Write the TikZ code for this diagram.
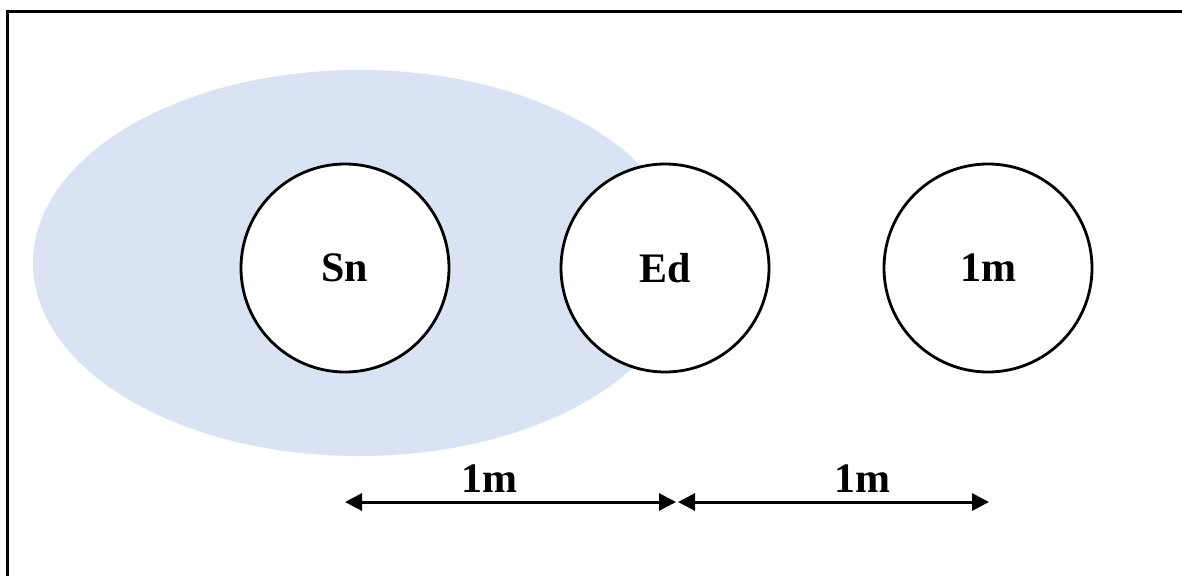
\documentclass[tikz,border=0pt]{standalone}
\usepackage{fontspec}
\setmainfont{Liberation Serif}
\usetikzlibrary{arrows.meta}
\definecolor{zonefill}{RGB}{218,227,243}
\tikzset{
  ball/.style={circle, draw=black, line width=2.8pt, fill=white, minimum size=208pt, inner sep=0pt,
    font=\fontsize{42}{42}\selectfont\bfseries},
  dimlabel/.style={font=\fontsize{42}{42}\selectfont\bfseries, inner sep=0pt},
  dimarrow/.style={line width=3pt, {Triangle[length=17pt,width=17pt]}-{Triangle[length=17pt,width=17pt]}},
  frameline/.style={line width=3pt, black}
}
\begin{document}
\begin{tikzpicture}[x=1pt,y=-1pt]
\useasboundingbox (0,0) rectangle (1182,576);
\fill[white] (0,0) rectangle (1182,576);
% frame (top and left only)
\draw[frameline] (7,576) -- (7,11) -- (1182,11);
% shaded zone
\fill[zonefill] (359,263) ellipse [x radius=326, y radius=193];
% circles
\node[ball] (sn) at (345,268) {Sn};
\node[ball] (ed) at (665,268) {Ed};
\node[ball] (om) at (988,268) {1m};
% dimension arrows
\coordinate (a1) at (345,502);
\coordinate (a2) at (676,502);
\coordinate (a3) at (678,502);
\coordinate (a4) at (989,502);
\draw[dimarrow] (a1) -- (a2);
\draw[dimarrow] (a3) -- (a4);
\node[dimlabel] (l1) at (489,479) {1m};
\node[dimlabel] (l2) at (862,479) {1m};
\end{tikzpicture}
\end{document}
